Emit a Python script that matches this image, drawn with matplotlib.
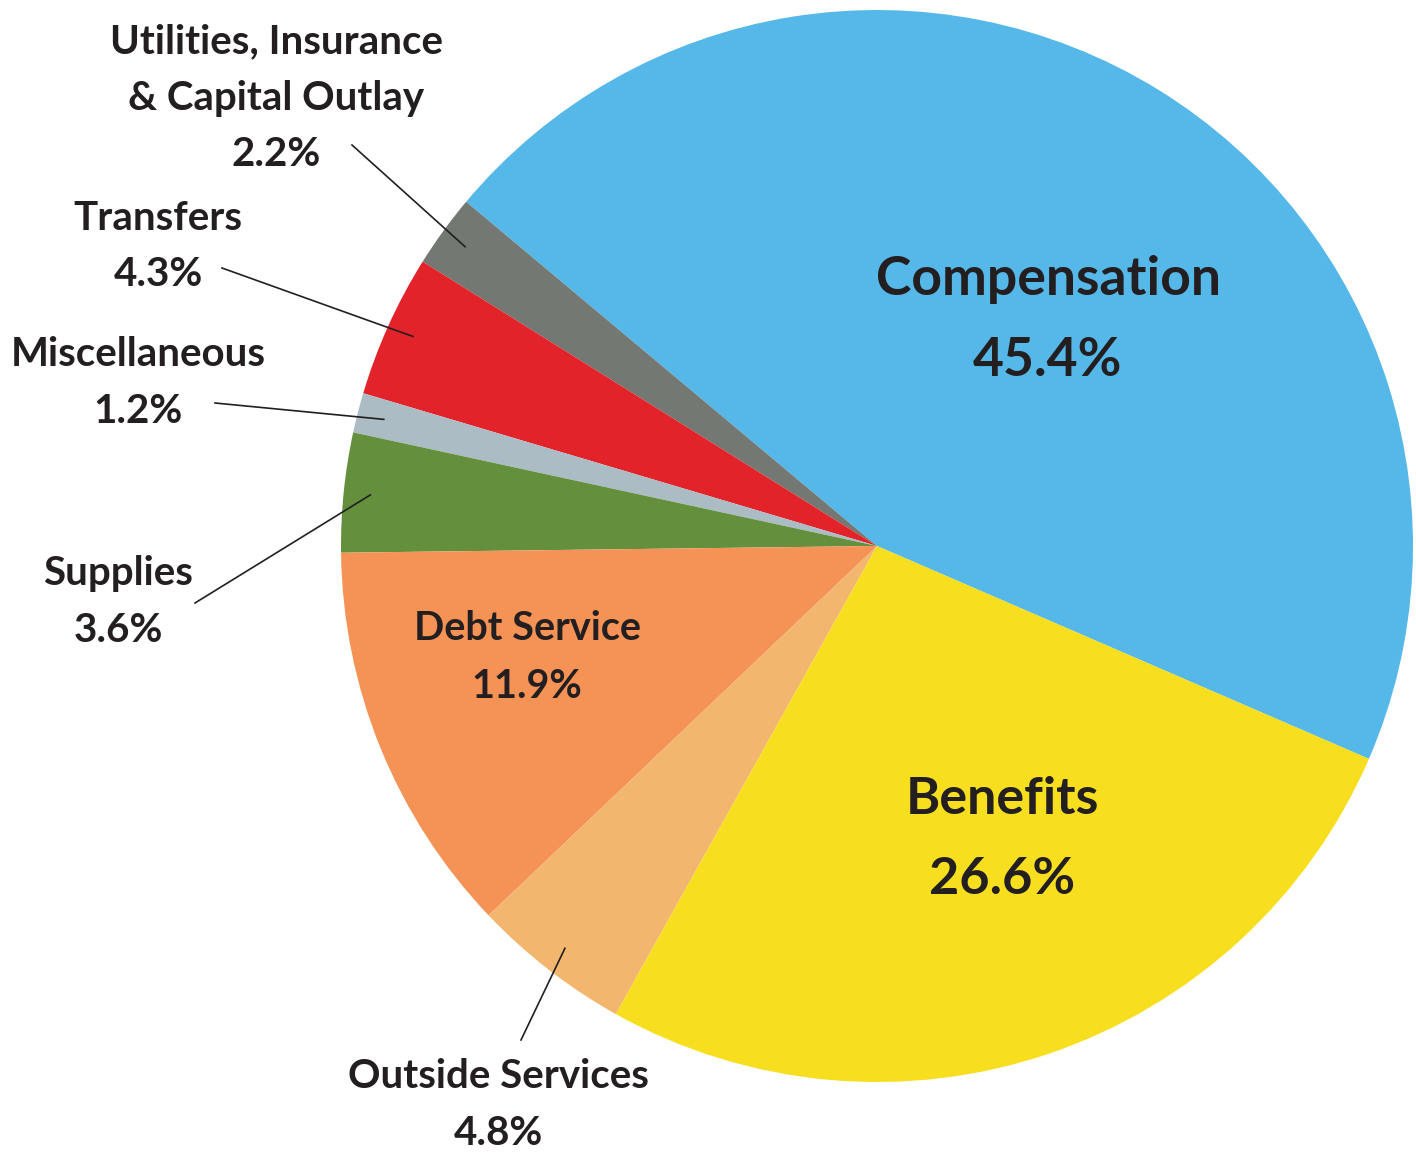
import numpy as np
import matplotlib.pyplot as plt

W, H = 1416, 1153

labels = ["Compensation", "Utilities, Insurance\n& Capital Outlay", "Transfers",
          "Miscellaneous", "Supplies", "Debt Service", "Outside Services", "Benefits"]
shares = [45.4, 2.2, 4.3, 1.2, 3.6, 11.9, 4.8, 26.6]
colors = ["#55B8E8", "#737873", "#E3232A", "#ABBCC5", "#64903E",
          "#F59256", "#F2B66F", "#F7DE1E"]

text_color = "#231F20"
font = ["Lato", "DejaVu Sans"]

# pie geometry in pixel coords (y measured from top)
cx, cy, radius = 877, 546, 536

# labels inside the pie: (index, x, y of name line, size, line gap)
inside = [(0, 1048, 280, 38.5, 80), (7, 1002, 800, 37.5, 80), (5, 527, 628, 28.5, 58)]
# labels outside with a leader line: (index, text x, text y of first line, line end x, line end y)
outside = [(1, 276, 42, 352, 145),
           (2, 158, 218, 222, 268),
           (3, 138, 355, 215, 403),
           (4, 118, 574, 195, 603),
           (6, 498, 1077, 521, 1040)]


def px(x, y):
    return x, H - y


fig = plt.figure(figsize=(W / 100, H / 100), dpi=100)
ax = fig.add_axes([0, 0, 1, 1])
wedges, _ = ax.pie(shares, colors=colors, startangle=-23.4, counterclock=True,
                   center=px(cx, cy), radius=radius,
                   wedgeprops=dict(linewidth=0))
ax.set_xlim(0, W)
ax.set_ylim(0, H)
ax.set_aspect("equal")
ax.axis("off")

for i, x, y, size, gap in inside:
    ax.text(*px(x, y), labels[i], ha="center", va="center", fontsize=size,
            fontweight="bold", color=text_color, family=font)
    ax.text(*px(x, y + gap), f"{shares[i]}%", ha="center", va="center",
            fontsize=size, fontweight="bold", color=text_color, family=font)

for i, x, y, lx, ly in outside:
    w = wedges[i]
    mid = np.deg2rad((w.theta1 + w.theta2) / 2)
    ix = cx + 0.95 * radius * np.cos(mid)
    iy = cy - 0.95 * radius * np.sin(mid)
    ax.plot([lx, ix], [H - ly, H - iy], color=text_color, linewidth=1.2)
    name_lines = labels[i].split("\n")
    for k, line in enumerate(name_lines):
        ax.text(*px(x, y + k * 56.5), line, ha="center", va="center", fontsize=29,
                fontweight="bold", color=text_color, family=font)
    ax.text(*px(x, y + len(name_lines) * 56.5), f"{shares[i]}%", ha="center",
            va="center", fontsize=29, fontweight="bold", color=text_color, family=font)

fig.savefig("out.png", dpi=100)
